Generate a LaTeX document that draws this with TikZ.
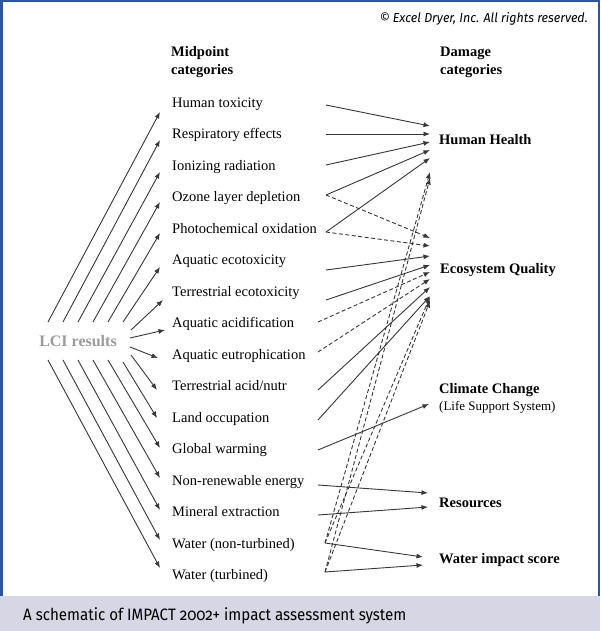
\documentclass[tikz,border=0pt]{standalone}
\usepackage{fontspec}
\setmainfont{Liberation Serif}
\newfontfamily\capfont[Numbers=OldStyle]{Fira Sans}
\usetikzlibrary{arrows.meta}
\definecolor{framecol}{RGB}{45,85,165}
\definecolor{barcol}{RGB}{214,214,228}
\definecolor{linecol}{RGB}{55,55,55}
\definecolor{lcicol}{RGB}{155,155,155}
\begin{document}
\begin{tikzpicture}[x=1pt,y=-1pt,
  conn/.style={draw=linecol, line width=0.9pt, -{Latex[length=6.5pt,width=5pt]}},
  dashconn/.style={conn, dash pattern=on 4pt off 2.5pt},
  mid/.style={anchor=base west, inner sep=0pt, font=\fontsize{14.5}{17}\selectfont},
  dmg/.style={anchor=base west, inner sep=0pt, font=\fontsize{14.5}{17}\selectfont\bfseries},
  hdr/.style={anchor=base west, inner sep=0pt, align=left, font=\fontsize{14.5}{18}\selectfont\bfseries},
]
\useasboundingbox (0,0) rectangle (600,631);
\fill[white] (0,0) rectangle (600,631);
\draw[framecol, line width=2.5pt] (1.25,1.25) rectangle (598.75,620);
\fill[barcol] (0,596) rectangle (600,631);

% texts
\node[anchor=base east, inner sep=0pt, font=\capfont\itshape\fontsize{13}{15}\selectfont] (copy) at (588,23) {\scalebox{0.96}[1]{© Excel Dryer, Inc. All rights reserved.}};
\node[anchor=base west, inner sep=0pt, font=\capfont\fontsize{16.5}{19}\selectfont] (cap) at (23,620) {\scalebox{0.915}[1]{A schematic of IMPACT 2002+ impact assessment system}};

\node[hdr] (midhdr) at (171,75) {Midpoint\\categories};
\node[hdr] (dmghdr) at (440,75) {Damage\\categories};

\node[anchor=center, inner sep=0pt, text=lcicol, font=\fontsize{16}{19}\selectfont\bfseries] (lci) at (78,341) {LCI results};

\foreach \i/\t in {1/Human toxicity, 2/Respiratory effects, 3/Ionizing radiation,
  4/Ozone layer depletion, 5/Photochemical oxidation, 6/Aquatic ecotoxicity,
  7/Terrestrial ecotoxicity, 8/Aquatic acidification, 9/Aquatic eutrophication,
  10/Terrestrial acid\slash nutr, 11/Land occupation, 12/Global warming,
  13/Non-renewable energy, 14/Mineral extraction, 15/Water (non-turbined),
  16/Water (turbined)}
  \node[mid] (m\i) at (172,{107.5+31.47*(\i-1)}) {\t};

% damage categories
\node[dmg] (hh) at (439,145) {Human Health};
\node[dmg] (eq) at (440,273) {Ecosystem Quality};
\node[dmg] (cc) at (439,393) {Climate Change};
\node[anchor=base west, inner sep=0pt, font=\fontsize{13}{15}\selectfont] (lss) at (439,410) {(Life Support System)};
\node[dmg] (res) at (439,507) {Resources};
\node[dmg] (wis) at (439,563) {Water impact score};

% LCI -> midpoint arrows
\foreach \i/\sx/\sy/\ex/\ey in {
  1/48/322/160/112, 2/63/322/160/140, 3/78/322/160/172, 4/93/322/160/202,
  5/108/322/160/233, 6/123/322/160/267, 7/131/330/163/300, 8/130/338/165/330,
  9/130/347/158/358, 10/131/355/157/390, 11/123/362/157/418, 12/108/360/160/448,
  13/93/360/160/478, 14/78/360/160/510, 15/63/360/160/540, 16/48/360/160/568}
{
  \coordinate (ls\i) at (\sx,\sy);
  \coordinate (lt\i) at (\ex,\ey);
  \draw[conn] (ls\i) -- (lt\i);
}

% midpoint -> damage arrows
\coordinate (r1) at (326,105);
\coordinate (r2) at (326,134);
\coordinate (r3) at (326,165);
\coordinate (r4) at (326,195);
\coordinate (r5) at (326,232);
\coordinate (r6) at (326,270);
\coordinate (r7) at (326,300);
\coordinate (r8) at (318,322);
\coordinate (r9) at (318,352);
\coordinate (r10) at (318,390);
\coordinate (r11) at (318,420);
\coordinate (r12) at (318,450);
\coordinate (r13) at (318,485);
\coordinate (r14) at (318,515);
\coordinate (r15) at (325,543);
\coordinate (r16) at (325,572);

\coordinate (hh1) at (430,126);
\coordinate (hh2) at (430,134);
\coordinate (hh3) at (430,142);
\coordinate (hh4) at (430,150);
\coordinate (hh5) at (430,158);
\coordinate (hh6) at (430,172);
\coordinate (hh7) at (430,178);
\coordinate (eq1) at (430,238);
\coordinate (eq2) at (430,246);
\coordinate (eq3) at (430,256);
\coordinate (eq4) at (430,265);
\coordinate (eq5) at (430,272);
\coordinate (eq6) at (430,279);
\coordinate (eq7) at (430,287);
\coordinate (eq8) at (430,296);
\coordinate (eq9) at (430,297);
\coordinate (eq10) at (430,301);
\coordinate (cc1) at (429,404);
\coordinate (rs1) at (428,493);
\coordinate (rs2) at (428,507);
\coordinate (ws1) at (423,557);
\coordinate (ws2) at (423,565);

\draw[conn] (r1) -- (hh1);
\draw[conn] (r2) -- (hh2);
\draw[conn] (r3) -- (hh3);
\draw[conn] (r4) -- (hh4);
\draw[conn] (r5) -- (hh5);
\draw[dashconn] (r4) -- (eq1);
\draw[dashconn] (r5) -- (eq2);
\draw[conn] (r6) -- (eq3);
\draw[conn] (r7) -- (eq4);
\draw[dashconn] (r8) -- (eq5);
\draw[dashconn] (r9) -- (eq6);
\draw[conn] (r10) -- (eq7);
\draw[conn] (r11) -- (eq8);
\draw[conn] (r12) -- (cc1);
\draw[conn] (r13) -- (rs1);
\draw[conn] (r14) -- (rs2);
\draw[conn] (r15) -- (ws1);
\draw[conn] (r16) -- (ws2);
\draw[dashconn] (r15) -- (hh6);
\draw[dashconn] (r16) -- (hh7);
\draw[dashconn] (r15) -- (eq9);
\draw[dashconn] (r16) -- (eq10);
\end{tikzpicture}
\end{document}
